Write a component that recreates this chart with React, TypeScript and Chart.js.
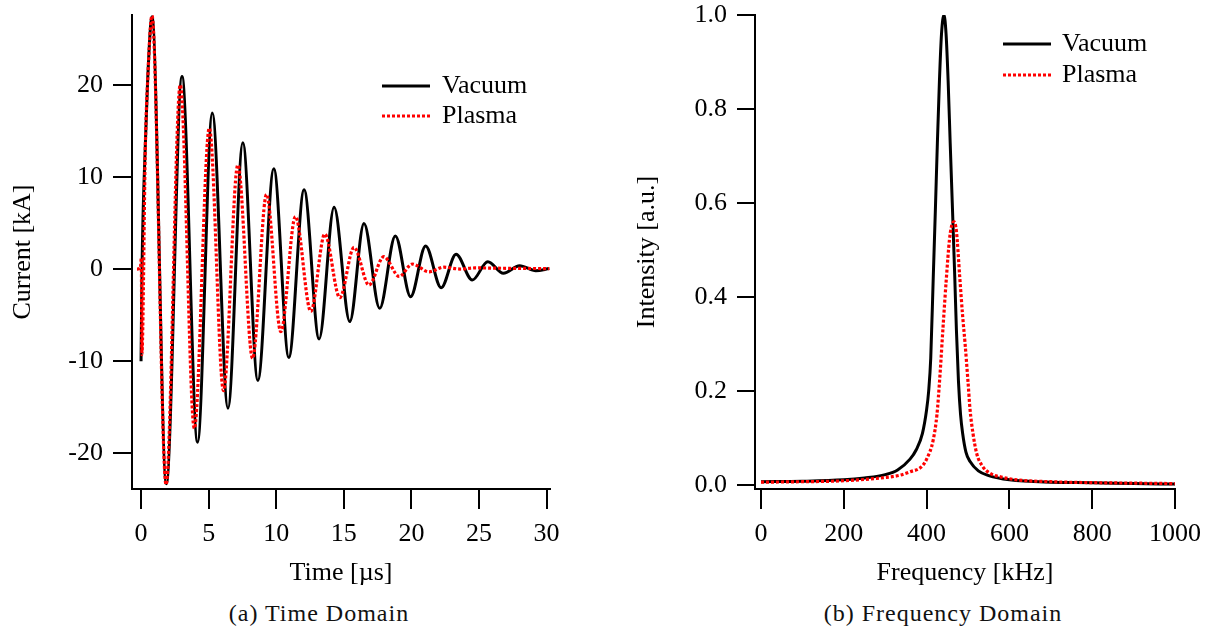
import React, { useEffect, useRef } from 'react';
import { Chart, registerables } from 'chart.js';

Chart.register(...registerables);

// ---------- Time domain (a) ----------
const vacuumTime = [0, 0.07, 0.32, 0.49, 0.81, 1.87, 3.03, 4.18, 5.27, 6.43, 7.53, 8.64, 9.82, 10.93, 12.06, 13.17, 14.28, 15.44, 16.49, 17.65, 18.81, 19.94, 21.05, 22.2, 23.3, 24.5, 25.65, 26.8, 28.0, 29.2, 30.2];
const vacuumCurrent = [-10, 0, 13.7, 20.6, 27.4, -23.3, 20.9, -18.8, 16.95, -15.1, 13.7, -12.1, 10.9, -9.6, 8.6, -7.6, 6.7, -5.7, 4.95, -4.27, 3.6, -3.0, 2.5, -2.03, 1.6, -1.2, 0.8, -0.47, 0.36, -0.18, 0.05];

const plasmaTime = [-0.3, -0.05, 0.02, 0.06, 0.32, 0.49, 0.81, 1.85, 2.9, 3.94, 5.05, 6.1, 7.16, 8.25, 9.28, 10.34, 11.42, 12.56, 13.59, 14.7, 15.75, 16.86, 17.95, 19.1, 20.06, 21.3, 22.4, 23.6, 24.7, 27.0, 30.2];
const plasmaCurrent = [0, 0.1, 1.2, -9.3, 13.5, 20.5, 27.5, -23.4, 20.0, -17.3, 15.3, -13.2, 11.3, -9.7, 8.1, -6.8, 5.7, -4.6, 3.8, -3.1, 2.35, -1.74, 1.34, -0.8, 0.54, -0.3, 0.2, 0.0, 0.12, 0.08, 0.05];

const timeTicks = [0, 5, 10, 15, 20, 25, 30];
const timeTickLabels = ['0', '5', '10', '15', '20', '25', '30'];
const currentTicks = [-20, -10, 0, 10, 20];
const currentTickLabels = ['-20', '-10', '0', '10', '20'];

// ---------- Frequency domain (b) ----------
const vacuumFreq = [0, 100, 200, 250, 300, 330, 360, 375, 390, 400, 405, 410, 416, 421, 426, 431, 436, 442, 447, 452, 457, 462, 468, 472, 477, 482, 487, 495, 505, 525, 550, 600, 700, 800, 900, 1000];
const vacuumIntensity = [0.007, 0.008, 0.011, 0.015, 0.022, 0.032, 0.055, 0.075, 0.11, 0.16, 0.2, 0.27, 0.44, 0.58, 0.727, 0.86, 0.96, 1.0, 0.96, 0.86, 0.727, 0.6, 0.443, 0.33, 0.22, 0.15, 0.11, 0.07, 0.05, 0.03, 0.02, 0.011, 0.006, 0.005, 0.003, 0.002];

const plasmaFreq = [0, 100, 200, 300, 336, 360, 388, 400, 416, 425, 432, 440, 448, 455, 460, 466, 472, 480, 487, 493, 500, 505, 512, 521, 535, 553, 580, 618, 700, 800, 900, 1000];
const plasmaIntensity = [0.006, 0.007, 0.009, 0.016, 0.021, 0.028, 0.039, 0.055, 0.096, 0.15, 0.23, 0.34, 0.443, 0.52, 0.55, 0.56, 0.54, 0.443, 0.36, 0.3, 0.22, 0.16, 0.11, 0.067, 0.04, 0.025, 0.017, 0.011, 0.007, 0.005, 0.004, 0.003];

const freqTicks = [0, 200, 400, 600, 800, 1000];
const freqTickLabels = ['0', '200', '400', '600', '800', '1000'];
const intensityTicks = [0, 0.2, 0.4, 0.6, 0.8, 1.0];
const intensityTickLabels = ['0.0', '0.2', '0.4', '0.6', '0.8', '1.0'];

const seriesNames = ['Vacuum', 'Plasma'];
const captions = ['(a) Time Domain', '(b) Frequency Domain'];

const FONT = '"Liberation Serif", "Times New Roman", serif';

const inlineLegend = {
  id: 'inlineLegend',
  afterDraw(chart: any, _args: any, opts: any) {
    const { ctx, chartArea } = chart;
    ctx.save();
    chart.data.datasets.forEach((ds: any, i: number) => {
      const y = chartArea.top + opts.top + i * opts.spacing;
      const x0 = chartArea.left + opts.left;
      ctx.beginPath();
      ctx.setLineDash(ds.borderDash || []);
      ctx.lineWidth = ds.borderWidth;
      ctx.strokeStyle = ds.borderColor;
      ctx.moveTo(x0, y);
      ctx.lineTo(x0 + opts.sample, y);
      ctx.stroke();
      ctx.setLineDash([]);
      ctx.fillStyle = '#000';
      ctx.font = `26px ${FONT}`;
      ctx.textBaseline = 'middle';
      ctx.textAlign = 'left';
      ctx.fillText(ds.label, x0 + opts.sample + opts.gap, y);
    });
    ctx.restore();
  },
};

function toPoints(xs: number[], ys: number[]) {
  return xs.map((x, i) => ({ x, y: ys[i] }));
}

function makeScale(opts: {
  min: number; max: number; ticks: number[]; labels: string[]; title: string;
  horizontal: boolean; size: number; tickLength: number; titlePad: number;
}) {
  return {
    type: 'linear',
    min: opts.min,
    max: opts.max,
    afterBuildTicks: (scale: any) => {
      scale.ticks = opts.ticks.map((v) => ({ value: v }));
    },
    afterFit: (scale: any) => {
      if (opts.horizontal) {
        scale.height = opts.size;
        scale.paddingLeft = 0;
        scale.paddingRight = 0;
      } else {
        scale.width = opts.size;
        scale.paddingTop = 0;
        scale.paddingBottom = 0;
      }
    },
    ticks: {
      autoSkip: false,
      maxRotation: 0,
      minRotation: 0,
      padding: 10,
      color: '#000',
      font: { family: FONT, size: 26 },
      callback: (_v: any, i: number) => opts.labels[i],
    },
    grid: {
      display: true,
      drawOnChartArea: false,
      drawTicks: true,
      tickLength: opts.tickLength,
      color: '#000',
      lineWidth: 2,
    },
    border: { display: true, color: '#000', width: 2 },
    title: {
      display: true,
      text: opts.title,
      color: '#000',
      font: { family: FONT, size: 26 },
      padding: opts.horizontal ? { top: 0, bottom: opts.titlePad } : { top: opts.titlePad, bottom: 0 },
    },
  };
}

function ChartCanvas({ config, width, height }: { config: any; width: number; height: number }) {
  const ref = useRef<HTMLCanvasElement | null>(null);
  useEffect(() => {
    if (!ref.current) return;
    const chart = new Chart(ref.current, config);
    return () => chart.destroy();
  }, []);
  return <canvas ref={ref} width={width} height={height} style={{ width, height, display: 'block' }} />;
}

const vacuumStyle = {
  borderColor: '#000000',
  borderWidth: 3,
  borderDash: [] as number[],
};
const plasmaStyle = {
  borderColor: '#ff0000',
  borderWidth: 3.2,
  borderDash: [3, 2],
};

const timeConfig = {
  type: 'line',
  data: {
    datasets: [
      { label: seriesNames[0], data: toPoints(vacuumTime, vacuumCurrent), ...vacuumStyle, pointRadius: 0, cubicInterpolationMode: 'monotone', fill: false, order: 2 },
      { label: seriesNames[1], data: toPoints(plasmaTime, plasmaCurrent), ...plasmaStyle, pointRadius: 0, cubicInterpolationMode: 'monotone', fill: false, order: 1 },
    ],
  },
  options: {
    responsive: false,
    animation: false,
    devicePixelRatio: 1,
    layout: { padding: { left: 0, top: 15, right: 50, bottom: 0 } },
    plugins: {
      legend: { display: false },
      tooltip: { enabled: false },
      inlineLegend: { left: 250, top: 71, spacing: 30, sample: 48, gap: 12 },
    },
    scales: {
      x: makeScale({ min: -0.67, max: 30.25, ticks: timeTicks, labels: timeTickLabels, title: 'Time [µs]', horizontal: true, size: 111, tickLength: 20, titlePad: 11 }),
      y: makeScale({ min: -23.88, max: 27.58, ticks: currentTicks, labels: currentTickLabels, title: 'Current [kA]', horizontal: false, size: 132, tickLength: 19, titlePad: 8 }),
    },
  },
  plugins: [inlineLegend],
};

const freqConfig = {
  type: 'line',
  data: {
    datasets: [
      { label: seriesNames[0], data: toPoints(vacuumFreq, vacuumIntensity), ...vacuumStyle, pointRadius: 0, cubicInterpolationMode: 'monotone', fill: false, order: 2 },
      { label: seriesNames[1], data: toPoints(plasmaFreq, plasmaIntensity), ...plasmaStyle, pointRadius: 0, cubicInterpolationMode: 'monotone', fill: false, order: 1 },
    ],
  },
  options: {
    responsive: false,
    animation: false,
    devicePixelRatio: 1,
    layout: { padding: { left: 0, top: 15, right: 32, bottom: 0 } },
    plugins: {
      legend: { display: false },
      tooltip: { enabled: false },
      inlineLegend: { left: 248, top: 29, spacing: 31, sample: 48, gap: 11 },
    },
    scales: {
      x: makeScale({ min: -14.5, max: 1000, ticks: freqTicks, labels: freqTickLabels, title: 'Frequency [kHz]', horizontal: true, size: 111, tickLength: 20, titlePad: 11 }),
      y: makeScale({ min: -0.0085, max: 1.0, ticks: intensityTicks, labels: intensityTickLabels, title: 'Intensity [a.u.]', horizontal: false, size: 155, tickLength: 18, titlePad: 32 }),
    },
  },
  plugins: [inlineLegend],
};

const captionStyle: React.CSSProperties = {
  position: 'absolute',
  top: 601,
  fontFamily: FONT,
  fontSize: 24,
  lineHeight: '24px',
  letterSpacing: '1px',
  color: '#111',
  textAlign: 'center',
  whiteSpace: 'nowrap',
};

export default function App() {
  return (
    <div style={{ position: 'absolute', left: 0, top: 0, width: 1207, height: 629, background: '#fff', overflow: 'hidden' }}>
      <div style={{ position: 'absolute', left: 0, top: 0 }}>
        <ChartCanvas config={timeConfig} width={600} height={600} />
      </div>
      <div style={{ position: 'absolute', left: 600, top: 0 }}>
        <ChartCanvas config={freqConfig} width={607} height={600} />
      </div>
      <div style={{ ...captionStyle, left: 219, width: 200 }}>{captions[0]}</div>
      <div style={{ ...captionStyle, left: 793, width: 300 }}>{captions[1]}</div>
    </div>
  );
}
